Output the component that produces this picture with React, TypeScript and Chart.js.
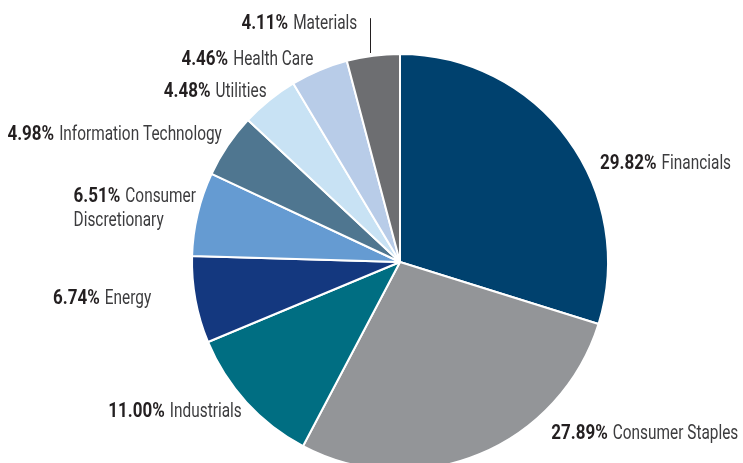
import React, { useEffect, useRef } from "react";
import { Chart, registerables } from "chart.js";

Chart.register(...registerables);

const categories = [
  "Financials",
  "Consumer Staples",
  "Industrials",
  "Energy",
  "Consumer Discretionary",
  "Information Technology",
  "Utilities",
  "Health Care",
  "Materials",
];
const values = [29.82, 27.89, 11.0, 6.74, 6.51, 4.98, 4.48, 4.46, 4.11];
const colors = [
  "#00416e",
  "#939598",
  "#006e82",
  "#14387f",
  "#659bd2",
  "#4f7690",
  "#c8e2f4",
  "#b8cce8",
  "#6d6e71",
];
const labelLines = [
  ["Financials"],
  ["Consumer Staples"],
  ["Industrials"],
  ["Energy"],
  ["Consumer", "Discretionary"],
  ["Information Technology"],
  ["Utilities"],
  ["Health Care"],
  ["Materials"],
];

// label layout: pixel offsets from pie centre at reference radius R0
const R0 = 209;
const labelLayout = [
  { dx: 201, dy: -100, align: "left" },
  { dx: 152, dy: 171, align: "left" },
  { dx: -159, dy: 149, align: "right" },
  { dx: -250, dy: 35, align: "right" },
  { dx: -328, dy: -67, align: "left" },
  { dx: -179, dy: -130, align: "right" },
  { dx: -134, dy: -173, align: "right" },
  { dx: -87, dy: -205, align: "right" },
  { dx: -43, dy: -241, align: "right" },
];
const leader = { dx: -30, dy1: -245, dy2: -210 };

const FONT_FAMILY = "Roboto, Arial, sans-serif";
const FONT_SIZE = 20;
const SCALE_BOLD = 0.85;
const SCALE_NORM = 0.77;
const GAP = 5;
const Y_SHIFT = 2;

const labelPlugin = {
  id: "outLabels",
  afterDatasetsDraw(chart: any) {
    const ctx = chart.ctx as CanvasRenderingContext2D;
    const meta = chart.getDatasetMeta(0);
    const arc0 = meta.data[0];
    const cx = arc0.x;
    const cy = arc0.y;
    const k = arc0.outerRadius / R0;
    const boldFont = `bold ${FONT_SIZE}px ${FONT_FAMILY}`;
    const normFont = `${FONT_SIZE}px ${FONT_FAMILY}`;
    ctx.save();
    ctx.textBaseline = "middle";
    ctx.textAlign = "left";
    const draw = (t: string, px: number, py: number, font: string, color: string, sx: number) => {
      ctx.save();
      ctx.font = font;
      ctx.fillStyle = color;
      ctx.translate(px, py);
      ctx.scale(sx, 1);
      ctx.fillText(t, 0, 0);
      ctx.restore();
    };
    values.forEach((v, i) => {
      const lay = labelLayout[i];
      const x = cx + lay.dx * k;
      const y = cy + lay.dy * k + Y_SHIFT;
      const pct = v.toFixed(2) + "%";
      const lines = labelLines[i];
      ctx.font = boldFont;
      const wPct = ctx.measureText(pct).width * SCALE_BOLD + GAP;
      ctx.font = normFont;
      const wName = ctx.measureText(lines[0]).width * SCALE_NORM;
      const total = wPct + wName;
      const startX = lay.align === "left" ? x : x - total;
      draw(pct, startX, y, boldFont, "#231f20", SCALE_BOLD);
      draw(lines[0], startX + wPct, y, normFont, "#3c3c3e", SCALE_NORM);
      for (let j = 1; j < lines.length; j++) {
        draw(lines[j], startX, y + j * 24 * k, normFont, "#3c3c3e", SCALE_NORM);
      }
    });
    ctx.strokeStyle = "#231f20";
    ctx.lineWidth = 1;
    ctx.beginPath();
    const lx = Math.round(cx + leader.dx * k) + 0.5;
    ctx.moveTo(lx, cy + leader.dy1 * k);
    ctx.lineTo(lx, cy + leader.dy2 * k);
    ctx.stroke();
    ctx.restore();
  },
};

export default function App() {
  const ref = useRef<HTMLCanvasElement | null>(null);
  useEffect(() => {
    document.body.style.margin = "0";
    const chart = new Chart(ref.current as HTMLCanvasElement, {
      type: "pie",
      data: {
        labels: categories,
        datasets: [
          {
            data: values,
            backgroundColor: colors,
            borderColor: "#ffffff",
            borderWidth: 2,
          },
        ],
      },
      options: {
        responsive: false,
        animation: false,
        layout: { padding: { top: 53, bottom: 50, left: 191, right: 134 } },
        plugins: {
          legend: { display: false },
          tooltip: { enabled: false },
        },
      },
      plugins: [labelPlugin],
    });
    return () => chart.destroy();
  }, []);
  return (
    <div style={{ position: "absolute", left: 0, top: 0, width: 743, height: 463, overflow: "hidden", background: "#fff" }}>
      <canvas ref={ref} width={743} height={521} style={{ width: 743, height: 521, display: "block" }} />
    </div>
  );
}
